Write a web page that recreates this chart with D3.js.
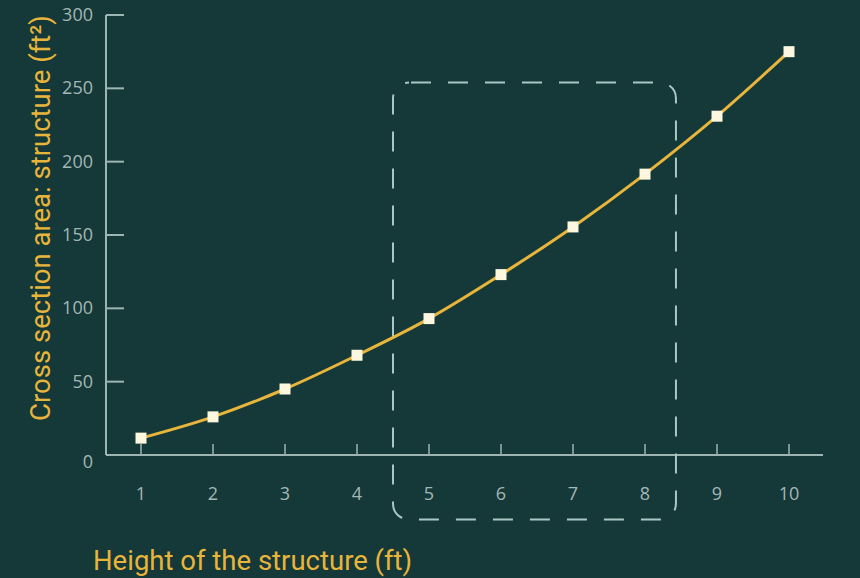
<!DOCTYPE html>
<html>
<head>
<meta charset="utf-8">
<script src="https://cdn.jsdelivr.net/npm/d3@7"></script>
<style>
  html, body { margin: 0; padding: 0; background: #153838; }
  svg { display: block; }
</style>
</head>
<body>
<svg id="chart" width="860" height="578"></svg>
<script>
// Height of the structure (ft)
const heights = [1, 2, 3, 4, 5, 6, 7, 8, 9, 10];
// Cross-section area of the structure (ft²)
const areas = [11.5, 26, 45, 68, 93, 123, 155.5, 191.5, 231, 275];
const yTicks = [0, 50, 100, 150, 200, 250, 300];
// Highlighted range (heights and areas the dashed frame spans)
const highlightX = [4.5, 8.43];
const highlightY = [-44, 254];

const bg = "#153838";
const axisColor = "#9db5b3";
const labelColor = "#a3b7b6";
const gold = "#e8b53c";
const markerFill = "#fcf7de";

const svg = d3.select("#chart");
svg.append("rect").attr("width", 860).attr("height", 578).attr("fill", bg);

const x = d3.scaleLinear().domain([1, 10]).range([141, 789]);
const y = d3.scaleLinear().domain([0, 300]).range([455, 15]);

// Y axis: line with ticks pointing into the plot
const yAxis = svg.append("g");
yAxis.append("line")
  .attr("x1", 106).attr("x2", 106)
  .attr("y1", y(300)).attr("y2", y(0))
  .attr("stroke", axisColor).attr("stroke-width", 2);
yAxis.selectAll("line.tick").data(yTicks.filter(d => d > 0)).join("line")
  .attr("class", "tick")
  .attr("x1", 106).attr("x2", 124)
  .attr("y1", d => y(d)).attr("y2", d => y(d))
  .attr("stroke", axisColor).attr("stroke-width", 2);
yAxis.selectAll("text").data(yTicks).join("text")
  .attr("x", 93)
  .attr("y", d => y(d) + (d === 0 ? 13 : 6))
  .attr("text-anchor", "end")
  .attr("fill", labelColor)
  .attr("font-family", "Open Sans, sans-serif")
  .attr("font-size", 18)
  .text(d => d);

// X axis: line with short upward ticks
const xAxis = svg.append("g");
xAxis.append("line")
  .attr("x1", 106).attr("x2", 823)
  .attr("y1", 455).attr("y2", 455)
  .attr("stroke", axisColor).attr("stroke-width", 2);
xAxis.selectAll("line.tick").data(heights).join("line")
  .attr("class", "tick")
  .attr("x1", d => x(d)).attr("x2", d => x(d))
  .attr("y1", 444).attr("y2", 456)
  .attr("stroke", axisColor).attr("stroke-width", 1.5);
xAxis.selectAll("text").data(heights).join("text")
  .attr("x", d => x(d))
  .attr("y", 500)
  .attr("text-anchor", "middle")
  .attr("fill", labelColor)
  .attr("font-family", "Open Sans, sans-serif")
  .attr("font-size", 18)
  .text(d => d);

// Dashed rounded frame around the highlighted range
const fx0 = x(highlightX[0]), fx1 = x(highlightX[1]);
const fy0 = y(highlightY[1]), fy1 = y(highlightY[0]);
svg.append("rect")
  .attr("x", fx0).attr("y", fy0)
  .attr("width", fx1 - fx0).attr("height", fy1 - fy0)
  .attr("rx", 16).attr("ry", 16)
  .attr("fill", "none")
  .attr("stroke", "#a9c7c4")
  .attr("stroke-width", 2)
  .attr("stroke-dasharray", "20 17")
  .attr("stroke-dashoffset", 35);

// Curve through the data
const line = d3.line()
  .x((d, i) => x(heights[i]))
  .y(d => y(d))
  .curve(d3.curveMonotoneX);
svg.append("path")
  .datum(areas)
  .attr("d", line)
  .attr("fill", "none")
  .attr("stroke", gold)
  .attr("stroke-width", 3);

// Square markers
const s = 11;
svg.selectAll("rect.marker").data(areas).join("rect")
  .attr("class", "marker")
  .attr("x", (d, i) => x(heights[i]) - s / 2)
  .attr("y", d => y(d) - s / 2)
  .attr("width", s).attr("height", s)
  .attr("fill", markerFill);

// Axis titles
svg.append("text")
  .attr("x", 93).attr("y", 570)
  .attr("fill", gold)
  .attr("font-family", "Roboto, sans-serif")
  .attr("font-size", 27.5)
  .text("Height of the structure (ft)");

svg.append("text")
  .attr("transform", "translate(50,218) rotate(-90)")
  .attr("text-anchor", "middle")
  .attr("fill", gold)
  .attr("font-family", "Roboto, sans-serif")
  .attr("font-size", 27.5)
  .text("Cross section area: structure (ft²)");
</script>
</body>
</html>
